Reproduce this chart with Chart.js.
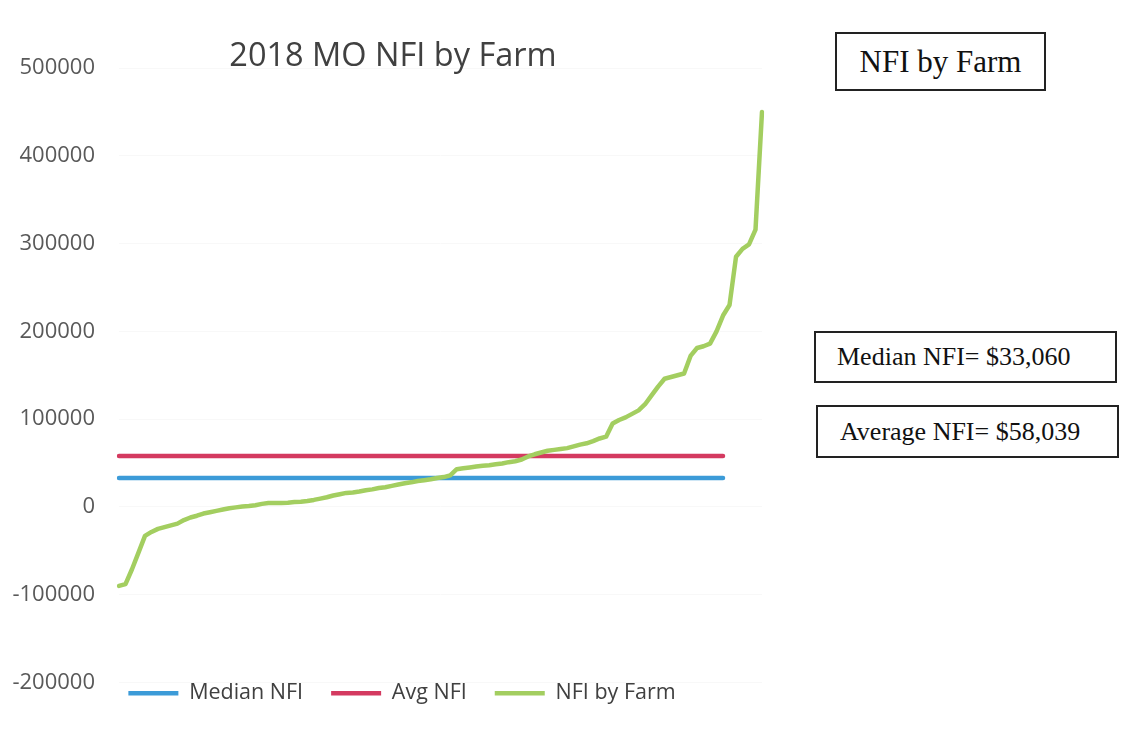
<!DOCTYPE html>
<html>
<head>
<meta charset="utf-8">
<title>2018 MO NFI by Farm</title>
<script src="https://cdn.jsdelivr.net/npm/chart.js@4"></script>
<style>
  body { margin: 0; background: #fff; width: 1122px; height: 730px; position: relative; overflow: hidden; }
  #chartWrap { position: absolute; left: 0; top: 0; width: 786px; height: 742px; }
  .note {
    position: absolute; box-sizing: border-box; border: 2px solid #222;
    font-family: "Liberation Serif", "Times New Roman", serif; color: #111;
    display: flex; align-items: center;
  }
</style>
</head>
<body>
<div id="chartWrap"><canvas id="nfiChart"></canvas></div>
<div class="note" id="noteTitle" style="left:835px;top:32px;width:211px;height:59px;font-size:31px;justify-content:center;"></div>
<div class="note" id="noteMedian" style="left:814px;top:331px;width:303px;height:52px;font-size:26px;padding-left:21px;"></div>
<div class="note" id="noteAvg" style="left:816px;top:405px;width:303px;height:53px;font-size:26px;padding-left:22px;"></div>
<script>
// farm NFI values, sorted low to high
const farmNFI = [
  -90000, -88000, -71000, -52000, -33000, -28500, -25000, -23000, -21000, -19000,
  -15000, -12000, -10000, -7500, -6000, -4500, -3000, -1500, -500, 500,
  1000, 2000, 3500, 4500, 4500, 4600, 4800, 5500, 6000, 6800,
  8000, 9500, 11000, 13000, 14500, 16000, 16500, 17500, 19000, 20000,
  21500, 22500, 24000, 25500, 27000, 28000, 29500, 30500, 31500, 33000,
  34000, 36000, 43000, 44000, 45000, 46000, 47000, 47500, 48500, 49500,
  51000, 52000, 54000, 57500, 60000, 62000, 64000, 65000, 66000, 67000,
  69000, 71000, 72500, 75000, 78000, 80000, 95000, 99000, 102000, 106000,
  110000, 117000, 127000, 137000, 146000, 148000, 150000, 152000, 172000, 181000,
  183000, 186000, 200000, 218000, 230000, 285000, 294000, 299000, 316000, 450000
];
const farmLabels = farmNFI.map((v, i) => String(i + 1));

const medianNFI = 33060;
const avgNFI = 58039;
const refLineLength = 94; // the median / avg series stop short of the last farms

const seriesNames = ['Median NFI', 'Avg NFI', 'NFI by Farm'];
const yTicks = { min: -200000, max: 500000, step: 100000 };

const medianLine = new Array(refLineLength).fill(medianNFI);
const avgLine = new Array(refLineLength).fill(avgNFI);

const money = v => '$' + v.toLocaleString('en-US');
document.getElementById('noteTitle').textContent = 'NFI by Farm';
document.getElementById('noteMedian').textContent = 'Median NFI= ' + money(medianNFI);
document.getElementById('noteAvg').textContent = 'Average NFI= ' + money(avgNFI);

const BLUE = 'rgb(60, 155, 216)';
const RED = 'rgb(212, 58, 96)';
const GREEN = 'rgb(163, 206, 96)';

const LEGEND_GAP = 28;

// pull the legend up close under the plot, padding only spaces the items
const legendLift = {
  id: 'legendLift',
  afterLayout(chart) {
    const lg = chart.legend;
    lg.top -= LEGEND_GAP;
    lg.bottom -= LEGEND_GAP;
    lg.left += 9;
    lg.right += 9;
  }
};

const nfiChart = new Chart(document.getElementById('nfiChart'), {
  type: 'line',
  data: {
    labels: farmLabels,
    datasets: [
      { label: seriesNames[0], data: medianLine, borderColor: BLUE, backgroundColor: BLUE, borderWidth: 4.5, order: 2 },
      { label: seriesNames[1], data: avgLine, borderColor: RED, backgroundColor: RED, borderWidth: 4.5, order: 1 },
      { label: seriesNames[2], data: farmNFI, borderColor: GREEN, backgroundColor: GREEN, borderWidth: 4.5, order: 0 }
    ]
  },
  options: {
    responsive: true,
    maintainAspectRatio: false,
    animation: false,
    elements: { point: { radius: 0 }, line: { tension: 0, borderCapStyle: 'round', borderJoinStyle: 'round' } },
    layout: { padding: 0 },
    scales: {
      x: { type: 'category', display: false },
      y: {
        min: yTicks.min,
        max: yTicks.max,
        ticks: {
          stepSize: yTicks.step,
          padding: 24,
          color: '#595959',
          font: { family: 'Open Sans', size: 22 },
          callback: v => String(v)
        },
        grid: { color: '#f8f8f8', drawTicks: false },
        border: { display: false },
        afterFit: s => { s.width = 119; }
      },
      yRight: {
        position: 'right',
        ticks: { display: false },
        grid: { display: false, drawTicks: false },
        border: { display: false },
        afterFit: s => { s.width = 24; }
      }
    },
    plugins: {
      title: {
        display: true,
        text: '2018 MO NFI by Farm',
        color: '#404040',
        font: { family: 'Open Sans', size: 32.5, weight: 'normal', lineHeight: 1 },
        padding: { top: 40, bottom: -4.5 }
      },
      legend: {
        position: 'bottom',
        labels: {
          usePointStyle: true,
          pointStyle: 'line',
          pointStyleWidth: 50,
          padding: LEGEND_GAP,
          color: '#404040',
          font: { family: 'Open Sans', size: 21.5 },
          sort: (a, b) => a.datasetIndex - b.datasetIndex
        }
      },
      tooltip: { enabled: false }
    }
  },
  plugins: [legendLift]
});
</script>
</body>
</html>
